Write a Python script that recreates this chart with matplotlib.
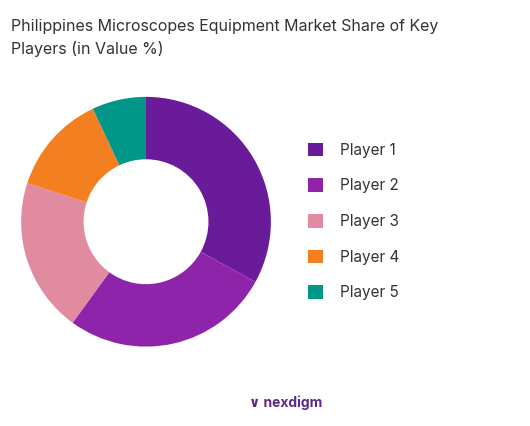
import matplotlib.pyplot as plt
from matplotlib.patches import Patch

players = ["Player 1", "Player 2", "Player 3", "Player 4", "Player 5"]
shares = [33, 27, 20, 13, 7]
colors = ["#6a1b9a", "#8e24aa", "#e08ba0", "#f47f20", "#009688"]

plt.rcParams['font.family'] = ['Inter', 'DejaVu Sans']
fig = plt.figure(figsize=(5.30, 4.26), dpi=100)
ax = fig.add_axes([-0.019, 0.113, 0.589, 0.733])
ax.pie(shares, colors=colors, startangle=90, counterclock=False,
       wedgeprops=dict(width=0.5, linewidth=0))
ax.set_aspect('equal')

fig.text(0.02, 0.955, "Philippines Microscopes Equipment Market Share of Key\nPlayers (in Value %)",
         fontsize=11.5, color="#333333", va="top", linespacing=1.5)

handles = [Patch(facecolor=c) for c in colors]
fig.legend(handles, players, loc="center left", bbox_to_anchor=(0.555, 0.48),
           frameon=False, fontsize=11, handlelength=1.0, handleheight=1.0,
           labelspacing=1.35, handletextpad=1.1, labelcolor="#333333")

fig.text(0.47, 0.055, "\u2228 nexdigm", fontsize=10, color="#5b2a86",
         ha="left", va="center", fontweight="bold")

fig.savefig("out.png", dpi=100)
